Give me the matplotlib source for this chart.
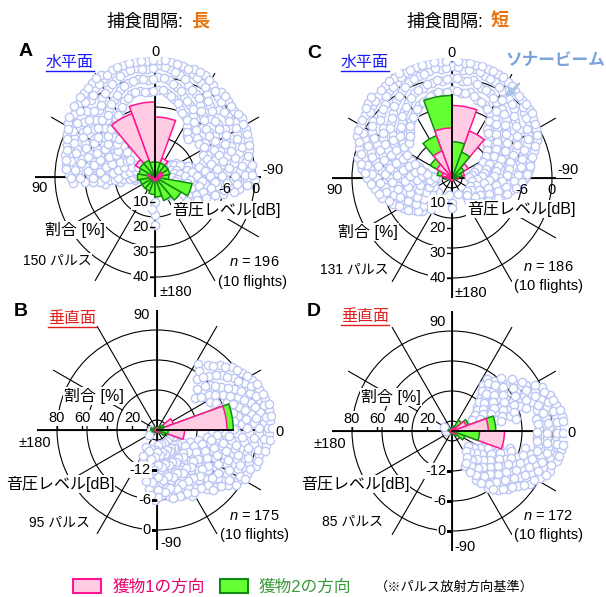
import numpy as np
import matplotlib
matplotlib.use('Agg')
import matplotlib.pyplot as plt
from matplotlib.lines import Line2D
from matplotlib.patches import Patch, FancyArrowPatch

plt.rcParams['font.family'] = ['Liberation Sans', 'Noto Sans CJK JP']
plt.rcParams['mathtext.fontset'] = 'custom'
plt.rcParams['mathtext.it'] = 'Liberation Sans:italic'
plt.rcParams['mathtext.rm'] = 'Liberation Sans'

W, H = 606, 597

# 20 degree bins (angle from the pulse direction)
bins = [10, 30, 50, 70, 90, 110, 130, 150, 170,
        -170, -150, -130, -110, -90, -70, -50, -30, -10]

# percentage of pulses per bin: prey 1 (pink) / prey 2 (green)
pink_a = [30, 27, 9, 3, 2, 1, 1, 1, 1.5, 1.5, 1, 1, 1.5, 2, 3, 3, 8, 24]
green_a = [6, 7, 7, 6.5, 7, 6, 6, 6, 7, 8, 10, 12, 15, 5.5, 6, 6, 6, 6]
pink_c = [20, 11.5, 7, 4, 2, 1, 1, 1, 1, 1, 1, 1, 1.5, 2.5, 5, 7.5, 20, 29]
green_c = [33, 18, 10, 6, 3, 1.5, 1, 1, 1, 1, 1, 1, 1, 2, 4, 5.5, 11, 14.5]
pink_b = [56, 14, 2, 1.5, 1, 1, 1, 1, 1.5, 1.5, 1, 1, 1, 1.5, 1.5, 2, 3, 22]
green_b = [61, 6, 4, 2, 2, 2, 2, 3, 5, 4, 3, 2, 2, 2, 2, 3, 7, 9]
pink_d = [29, 12, 3, 1.5, 1, 1, 1, 1, 1, 1, 1, 1, 1, 1, 1.5, 2, 4, 42]
green_d = [35, 14, 10, 4, 2, 1.5, 1.5, 2, 3, 2, 1.5, 1.5, 1.5, 2, 3, 5, 11, 22]

# sonar beam points: angle [deg] followed by sound pressure levels [dB]
cloud_a = """
98 -16 -13 -10
94 -16 -13.5 -11 -8.5 -6 -3.5
88 -17 -14.5 -12 -9.5 -7 -4.5 -2.8
82 -16 -13.5 -11 -8.5 -6 -3.5 -2
76 -15 -12.5 -10 -7.5 -5 -2.5 -1.5
70 -16 -13.5 -11 -8.5 -6 -3.5 -1.2
64 -14.5 -12 -9.5 -7 -4.5 -2 -0.5
58 -15.5 -13 -10.5 -8 -5.5 -3 -0.5 0.4
52 -12 -9.5 -7 -4.5 -2 0.5
46 -11 -8.5 -6 -3.5 -1 1.2
40 -7.5 -5 -2.5 0 2
34 -6 -3.5 -1 1.5 2.6
28 -5 -2.5 0 2.2 3.2
22 -3.5 -1.2 1 3
16 -2.8 -0.5 1.8 3.3
10 -2.5 0 2.2 3.4
4 -3 -0.6 1.6 3.2
-2 -2.5 0 2.4 3.5
-8 -3 -0.5 1.8 3.2
-14 -4 -1.5 1 2.8
-20 -5.5 -3 -0.5 2 3
-26 -6.5 -4 -1.5 1 2.6
-32 -8 -5.5 -3 -0.5 1.8
-38 -9.5 -7 -4.5 -2 0.4 1.6
-44 -9 -6.5 -4 -1.5 1
-50 -16 -8.5 -6 -3.5 -1 0.6
-56 -16.5 -15 -8 -5.5 -3 -0.5 1
-62 -15.5 -9 -6.5 -4 -1.5 0.5
-68 -16 -14 -8.5 -6 -3.5 -1 0
-74 -15 -12.5 -10 -7.5 -5 -2.5 -0.5
-80 -16.5 -14 -11.5 -9 -6.5 -4 -1.5
-86 -15.5 -13 -10.5 -8 -5.5 -3 -1
-92 -16 -13.5 -11 -8.5 -6 -3.5 -1.5 0
-98 -15 -12.5 -10 -7.5 -5 -3
-104 -16 -13.5 -11 -8.5 -6
-110 -15 -12.5 -10 -8
-116 -16 -13.5 -11 -9.5
-122 -15 -12.5 -11
-130 -16 -14 -12.5
-138 -15.5 -14
-150 -16
180 -15 -12.5 -10.5
174 -13.5
"""

cloud_a2 = """
95 -15 -12 -9 -7.5
91 -15.5 -12.5 -10 -7.5 -5 -3.2
85 -16.5 -14 -11.5 -9 -6.5 -4 -2.2
79 -15 -12.5 -10 -7.5 -5 -2.8 -1.8
73 -16 -13.5 -11 -8.5 -6 -3.5 -1.5
67 -15 -12.5 -10 -7.5 -5 -2.5 -0.8
61 -16 -13.5 -11 -8.5 -6 -3.5 -1.2 0
55 -14 -11 -8.5 -6 -3.5 -1 1
49 -12.5 -10 -7.5 -5 -2.5 0 1.5
43 -9.5 -7 -4.5 -2 0.5 2
37 -7 -4.5 -2 0.5 2.4
31 -5.5 -3 -0.5 1.8 3
25 -4.5 -2 0.5 2.6
19 -3.2 -0.8 1.4 3.3
13 -2.5 -0.2 2 3.4
7 -2.8 -0.2 1.8 3.3
1 -2.8 -0.4 1.8 3.4
-5 -2.6 -0.2 2 3.4
-11 -3.5 -1 1.4 3
-17 -4.5 -2 0.5 2.6
-23 -6 -3.5 -1 1.5 2.8
-29 -7 -4.5 -2 0.5 2.2
-35 -9 -6.5 -4 -1.5 1
-41 -10 -7.5 -5 -2.5 0 1.4
-47 -8.5 -6 -3.5 -1 0.8
-53 -16 -9 -6.5 -4 -1.5 0.8
-59 -15.5 -8.5 -6 -3.5 -1 0.6
-65 -16.5 -14.5 -9.5 -7 -4.5 -2 0.2
-71 -15.5 -13 -9 -6.5 -4 -1.5 -0.2
-77 -16 -13.5 -11 -8.5 -6 -3.5 -1
-83 -15 -12.5 -10 -7.5 -5 -2.5 -0.5
-89 -16.5 -14 -11.5 -9 -6.5 -4 -2 -0.5
-95 -15.5 -13 -10.5 -8 -5.5 -3.5 -1.5
-101 -16 -13.5 -11 -8.5 -6 -4
-107 -15 -12.5 -10 -7.5
-113 -16 -13.5 -11 -9
-119 -15 -12.5 -10.5
-126 -16 -13.5 -12
-134 -15 -13.5
-144 -15.5
"""

cloud_c = """
170 -16.5
180 -15 -14
146 -14 -12.5
138 -15 -13 -11
130 -16 -14 -12 -10
122 -14.5 -12.5 -10.5 -8.5
114 -16 -13 -11 -9 -7
106 -15 -12.5 -10 -8 -5.5
98 -16.5 -14 -11.5 -9 -6.5 -4.5
90 -17 -15 -12.5 -10 -7.5 -5 -3
84 -16 -13.5 -11 -8.5 -6 -3.5 -2
78 -14.5 -12 -9.5 -7 -4.5 -2 -0.8
72 -13 -10.5 -8 -5.5 -3 -0.5
66 -11 -8.5 -6 -3.5 -1 0.8
60 -9 -6.5 -4 -1.5 1
54 -8 -5.5 -3 -0.5 1.6
48 -8.5 -6 -3.5 -1 1.5 2.5
42 -7.5 -5 -2.5 0 2
36 -6 -3.5 -1 1.5 2.8
30 -5 -2.5 0 2.2 3.2
24 -4 -1.5 1 3
18 -3.5 -1 1.5 3.3
12 -2.8 -0.5 1.8 3.4
6 -3 -0.5 2 3.4
0 -2.5 0 2.4
-6 -3 -0.5 1.8 3.2
-12 -2.5 0 2.2 3.2
-18 -3.5 -1 1.5 3
-24 -4 -1.5 1 2.8
-30 -5 -2.5 0 2.2
-36 -8 -5.5 -3 -0.5 1.6
-42 -9 -6.5 -4 -1.5 1
-48 -10.5 -8 -5.5 -3 -0.5 0.6
-54 -11 -8.5 -6 -3.5 -1 0
-60 -12.5 -10 -7.5 -5 -2.5 -0.5
-66 -13.5 -11 -8.5 -6 -3.5 -1.5
-72 -15 -12.5 -10 -7.5 -5 -2.8
-78 -16 -13.5 -11 -8.5 -6 -4
-84 -16.5 -14 -11.5 -9 -6.5 -4.5
-90 -15.5 -13 -10.5 -8 -5.5
-96 -16 -13.5 -11 -8.5 -6.5
-102 -15 -12.5 -10 -8
-110 -16 -13.5 -11 -9.5
-118 -15 -13 -11
-126 -16 -14 -12
-134 -15 -13
-144 -16 -14.5
-160 -16.5
"""

cloud_c2 = """
142 -15 -13.5
134 -16 -14 -12 -10.5
126 -15 -13 -11 -9
118 -16 -14 -12 -10 -8
110 -15 -13 -11 -9 -6.5
102 -16 -13.5 -11 -9 -6.5 -5
94 -15.5 -13 -10.5 -8 -5.5 -3.8
87 -16.5 -14 -11.5 -9 -6.5 -4 -2.5
81 -15 -12.5 -10 -7.5 -5 -2.8 -1.5
75 -13.5 -11 -8.5 -6 -3.5 -1.2
69 -12 -9.5 -7 -4.5 -2 0
63 -10 -7.5 -5 -2.5 0 1
57 -8.5 -6 -3.5 -1 1.4
51 -9 -6.5 -4 -1.5 1 2.2
45 -8 -5.5 -3 -0.5 1.8 2.8
39 -6.5 -4 -1.5 1 2.6
33 -5.5 -3 -0.5 1.8 3.2
27 -4.5 -2 0.5 2.6 3.5
21 -3.8 -1.2 1.2 3.2
15 -3 -0.6 1.6 3.4
9 -2.6 -0.2 2.2 3.5
3 -2.8 -0.2 2 3.4
-3 -2.6 0 2.2 3.4
-9 -2.8 -0.4 1.8 3.3
-15 -3 -0.5 2 3.2
-21 -3.8 -1.2 1.2 2.9
-27 -4.5 -2 0.5 2.6
-33 -6.5 -4 -1.5 1 2
-39 -8.5 -6 -3.5 -1 1.2
-45 -10 -7.5 -5 -2.5 0 0.8
-51 -11 -8.5 -6 -3.5 -1 0.5
-57 -12 -9.5 -7 -4.5 -2 -0.2
-63 -13 -10.5 -8 -5.5 -3 -1
-69 -14.5 -12 -9.5 -7 -4.5 -2.2
-75 -15.5 -13 -10.5 -8 -5.5 -3.5
-81 -16 -13.5 -11 -8.5 -6 -4.2
-87 -16.5 -14 -11.5 -9 -6.8 -5
-93 -15 -12.5 -10 -7.5 -6
-99 -16 -13.5 -11 -9 -7
-106 -15 -12.5 -10.5 -8.5
-114 -16 -14 -12 -10
-122 -15.5 -13.5 -11.5
-130 -16 -14 -12.5
-139 -15.5 -13.5
"""

cloud_b = """
58 -4.5
52 -7 -3.5
46 -8.5 -5 -2
40 -10 -6 -3 -0.5
34 -7.5 -4.5 -1.5 0.5
28 -8 -5 -2.5 0 1.5
22 -7.5 -5 -2.5 0 2
16 -8 -5.5 -3 -0.5 1.5 2.5
10 -8.5 -6 -3.5 -1 1 2.8
4 -8 -5.5 -3 -0.5 1.5 2.6
-2 -9 -6.5 -4 -1.5 0.5 2.5
-8 -10 -7.5 -5 -2.5 -0.5 2
-14 -11.5 -9 -6.5 -4 -1.5 1
-20 -13 -10.5 -8 -5.5 -3 -0.5 1
-26 -14.5 -12 -9.5 -7 -4.5 -2 0
-32 -16 -13.5 -11 -8.5 -6 -3.5 -1
-38 -17 -14.5 -12 -9.5 -7 -4.5 -2
-44 -16 -13.5 -11 -8.5 -6 -3.5
-50 -17 -14.5 -12 -9.5 -7 -4.5
-56 -16 -13.5 -11 -8.5 -6
-62 -17 -14.5 -12 -9.5 -7 -5
-68 -16 -13.5 -11 -8.5 -6
-74 -17 -14.5 -12 -9.5 -7
-80 -16 -13.5 -11 -8.5 -6.5
-86 -17 -14.5 -12 -9.5 -7
-92 -16 -13.5 -11 -8.5 -6
-98 -15 -12.5 -10 -8
-106 -16 -13.5 -11
-114 -15 -13
-124 -16
180 -18.8
-150 -18.2
"""

cloud_b2 = """
55 -5.5
49 -6 -3
43 -7 -4 -1.5
37 -9 -5.5 -2.5 0
31 -6.5 -3.5 -1 1
25 -7 -4 -1.5 0.8 2
19 -6.5 -4 -1.5 1 2.4
13 -7.5 -4.5 -2 0.2 2 3
7 -7 -4.5 -2 0 2 3
1 -7.5 -4.5 -2 0.5 2.2 3
-5 -8 -5.5 -3 -0.5 1.5 2.6
-11 -9 -6.5 -4 -1.5 0.5 2
-17 -10.5 -8 -5.5 -3 -1 1.2
-23 -12 -9.5 -7 -4.5 -2 0.2
-29 -13.5 -11 -8.5 -6 -3.5 -1 0.2
-35 -15 -12.5 -10 -7.5 -5 -2.5 -0.8
-41 -15.5 -13 -10.5 -8 -5.5 -3
-47 -15 -12.5 -10 -7.5 -5 -3.5
-53 -15.5 -13 -10.5 -8 -5.5
-59 -15 -12.5 -10 -8 -5.5
-65 -15.5 -13 -10.5 -8 -6
-71 -15 -12.5 -10 -7.5 -6
-77 -15.5 -13 -10.5 -8 -6
-83 -15 -12.5 -10 -7.5
-89 -15.5 -13 -10.5 -8 -6.5
-95 -14.5 -12 -9.5 -7
-102 -14 -11.5 -9.5
-110 -15.5 -12
-118 -14
"""

cloud_d = """
56 -9 -7.5
50 -11 -9 -7
44 -13 -11 -8.5 -6
38 -14 -12 -9.5 -7 -4.5
32 -15 -12.5 -10 -7.5 -5 -2.5
26 -14 -11.5 -9 -6.5 -4 -1.5 0
20 -13 -10.5 -8 -5.5 -3 -1 0.8
14 -11 -8 -2.5 -0.5 1.5
8 -3 -1 1 2.2
2 -2.5 -0.5 1.5 2.4
-4 -3 -1 1 2.2
-10 -2.5 -0.5 1.5 2.2
-16 -8 -3.5 -1.5 0.5 1.8
-22 -11 -8.5 -6 -4 -2 0 1.2
-28 -13 -10.5 -8 -6 -4 -2 0
-34 -14 -12 -9.5 -7.5 -5.5 -3.5 -1.2
-40 -15 -13 -11 -9 -7 -5 -2.8
-46 -14 -12 -10 -8 -6 -4
-52 -15 -13 -11 -9 -7 -5
-58 -14 -12 -10 -8 -6.5
-64 -13 -11 -9
-70 -12.5
180 -18.8
150 -18.2
"""

cloud_d2 = """
53 -10 -8
47 -12 -10 -7.5 -5.5
41 -13.5 -11.5 -9 -6.5 -4
35 -14.5 -12.5 -10 -7.5 -5 -3
29 -15.5 -13 -10.5 -8 -5.5 -3 -1
23 -14 -11.5 -9 -6.5 -4 -2 0
17 -12.5 -9.5 -7 -4.5 -2 0 1.2
11 -10 -7 -1.5 0.5 2
5 -2.8 -0.8 1 2.3
-1 -3 -1 1 2.3
-7 -2.8 -0.8 1.2 2.3
-13 -5 -2.5 -0.5 1.5 2
-19 -10 -7.5 -5 -3 -1 1
-25 -12 -9.5 -7 -5 -3 -1 0.8
-31 -13.5 -11 -9 -7 -5 -3 -0.8
-37 -14.5 -12.5 -10.5 -8.5 -6.5 -4.5 -2
-43 -15.5 -13.5 -11.5 -9.5 -7.5 -5.5 -3.5
-49 -14.5 -12.5 -10.5 -8.5 -6.5 -4.5
-55 -15 -13 -11 -9 -7 -5.8
-61 -14 -12 -10 -8
-67 -13 -11
"""

SCAT = '#bcc7f3'
PINK_F, PINK_E = '#ffcce4', '#ff1493'
GREEN_F, GREEN_E = '#66ff33', '#128a12'
WB = dict(facecolor='white', edgecolor='none', pad=0.8)

fig = plt.figure(figsize=(W / 100, H / 100), dpi=100)


def fx(x):
    return x / W


def fy(y):
    return 1 - y / H


def read_cloud(*tbls):
    th, db = [], []
    for tbl in tbls:
        for line in tbl.strip().splitlines():
            v = [float(s) for s in line.split()]
            th += [v[0]] * (len(v) - 1)
            db += v[1:]
    return np.radians(th), np.array(db)


def make_panel(cx, cy, zero, clouds, pink, green, pmax):
    rect = [fx(cx - 120), fy(cy + 120), 240 / W, 240 / H]

    # sound pressure level axes
    ax = fig.add_axes(rect, projection='polar', label='db%d%d' % (cx, cy))
    ax.set_theta_zero_location(zero)
    ax.set_theta_direction(1)
    ax.set_ylim(-20, 4)
    ax.set_thetagrids(range(0, 360, 30), labels=[])
    ax.set_rgrids([-18, -12, -6, 0], labels=[])
    ax.grid(True, color='black', lw=0.8)
    ax.set_axisbelow(True)
    ax.spines['polar'].set_visible(False)
    ax.patch.set_alpha(0)
    for a in (0, 90, 180, 270):
        ax.plot([np.radians(a)] * 2, [-20, 4], color='black', lw=1.3, zorder=1)

    th, db = read_cloud(*clouds)
    ax.scatter(th, db, s=36, facecolor='white', edgecolor=SCAT, lw=1.0, zorder=2)

    # percentage axes (bars)
    ax2 = fig.add_axes(rect, projection='polar', label='pct%d%d' % (cx, cy))
    ax2.set_theta_zero_location(zero)
    ax2.set_theta_direction(1)
    ax2.set_ylim(0, pmax)
    ax2.axis('off')

    th_b = np.radians(bins)
    wd = np.radians(20)
    bp = ax2.bar(th_b, pink, width=wd, bottom=0, facecolor=PINK_F,
                 edgecolor=PINK_E, lw=1.1)
    bg = ax2.bar(th_b, green, width=wd, bottom=0, facecolor=GREEN_F,
                 edgecolor=GREEN_E, lw=1.1)
    for p, g, vp, vg in zip(bp.patches, bg.patches, pink, green):
        # smaller bar drawn on top
        p.set_zorder(4 if vp <= vg else 3)
        g.set_zorder(4 if vg < vp else 3)
    top = max(pink[0], pink[-1], green[0], green[-1])
    ax2.plot([0, 0], [0, top], color='black', lw=1.3, zorder=5)
    return ax, ax2


def ang_label(ax, deg, s, dx, dy):
    ax.annotate(s, xy=(np.radians(deg), 4), xytext=(dx, dy),
                textcoords='offset pixels', ha='center', va='center',
                fontsize=10.5, annotation_clip=False, bbox=WB, zorder=6)


def label(x, y, s, size=11.5, **kw):
    return fig.text(fx(x), fy(y), s, ha='center', va='center',
                    fontsize=size, **kw)


# ---------------- horizontal plane (A, C) ----------------
for cx, cy, clouds, pink, green in [(155, 177, (cloud_a, cloud_a2), pink_a, green_a),
                                    (452, 178, (cloud_c, cloud_c2), pink_c, green_c)]:
    ax, ax2 = make_panel(cx, cy, 'N', clouds, pink, green, 48)
    if cx < 300:
        ang_label(ax, 0, '0', 0, 5)
        ang_label(ax, 90, '90', 5, -11)
        ang_label(ax, -90, '-90', -2, 7)
        ang_label(ax, 180, '±180', 21, 5)
    else:
        ang_label(ax, 0, '0', 0, 5)
        ang_label(ax, 90, '90', 3, -12)
        ang_label(ax, -90, '-90', -4, 8)
        ang_label(ax, 180, '±180', 19, 5)
    for v in (-6, 0):
        ax.annotate(str(v), xy=(np.radians(-90), v), xytext=(0, -5),
                    textcoords='offset pixels', ha='center', va='top',
                    fontsize=10.5, zorder=6)
    for p in (10, 20, 30, 40):
        ax2.plot([np.pi], [p], marker=0, ms=4, color='black', mew=1,
                 clip_on=False, zorder=6)
        ax2.annotate(str(p), xy=(np.pi, p), xytext=(-6, 0),
                     textcoords='offset pixels', ha='right', va='center',
                     fontsize=10.5, bbox=WB, annotation_clip=False, zorder=6)

# ---------------- vertical plane (B, D) ----------------
for cx, cy, clouds, pink, green in [(157, 430, (cloud_b, cloud_b2), pink_b, green_b),
                                    (452, 431, (cloud_d, cloud_d2), pink_d, green_d)]:
    ax, ax2 = make_panel(cx, cy, 'E', clouds, pink, green, 96)
    if cx < 300:
        ang_label(ax, 90, '90', -15, -5)
        ang_label(ax, 0, '0', 2, -2)
        ang_label(ax, 180, '±180', -2, -13)
        ang_label(ax, -90, '-90', 14, 7)
    else:
        ang_label(ax, 90, '90', -14, -11)
        ang_label(ax, 0, '0', 0, -2)
        ang_label(ax, 180, '±180', -2, -13)
        ang_label(ax, -90, '-90', 13, 4)
    for v in (-12, -6, 0):
        ax.plot([np.radians(-90)], [v], marker=0, ms=4, color='black',
                mew=1, zorder=6)
        ax.annotate(str(v), xy=(np.radians(-90), v), xytext=(-6, 0),
                    textcoords='offset pixels', ha='right', va='center',
                    fontsize=10.5, bbox=WB, zorder=6)
    for p in (20, 40, 60, 80):
        ax2.plot([np.pi], [p], marker=2, ms=4, color='black', mew=1,
                 clip_on=False, zorder=6)
        ax2.annotate(str(p), xy=(np.pi, p), xytext=(0, 5),
                     textcoords='offset pixels', ha='center', va='bottom',
                     fontsize=10.5, bbox=WB, annotation_clip=False, zorder=6)

# ---------------- free labels ----------------
panel_text = [
    (75, 230, 57, 261, '150 パルス', 226, 210, 254, 262, 196, 252, 282),
    (368, 232, 354, 270, '131 パルス', 521, 209, 548, 267, 186, 548, 286),
    (94, 396, 59, 523, '95 パルス', 60, 484, 254, 516, 175, 254, 535),
    (391, 397, 353, 522, '85 パルス', 355, 484, 548, 516, 172, 548, 535),
]
for (gx, gy, px_, py_, ptxt, sx, sy, nx, ny, n, fx_, fy_) in panel_text:
    label(gx, gy, '割合 [%]', bbox=WB)
    label(px_, py_, ptxt, size=10, bbox=WB)
    label(sx, sy, '音圧レベル[dB]', bbox=WB)
    label(nx, ny, '$n$ = %d' % n, size=10.5, bbox=WB)
    label(fx_, fy_, '(10 flights)', size=10.5, bbox=WB)

# panel letters
for x, y, s in [(26, 52, 'A'), (314, 53, 'C'), (21, 311, 'B'), (314, 312, 'D')]:
    label(x, y, s, size=14, fontweight='bold')

# titles
for xr, word in [(183, '長'), (483, '短')]:
    fig.text(fx(xr), fy(22), '捕食間隔:', ha='right', va='center', fontsize=13)
    fig.text(fx(xr + 8), fy(22), word, ha='left', va='center', fontsize=13,
             fontweight='bold', color='#e8740c')

# plane names, underlined
renderer = fig.canvas.get_renderer()
for x, y, s, c in [(70, 62, '水平面', '#1a1aff'), (365, 62, '水平面', '#1a1aff'),
                   (72, 318, '垂直面', '#e0201e'), (365, 316, '垂直面', '#e0201e')]:
    t = label(x, y, s, size=11.5, color=c)
    bb = t.get_window_extent(renderer)
    x0, x1 = bb.x0 / W, bb.x1 / W
    yl = (bb.y0 - 1.5) / H
    fig.add_artist(Line2D([x0, x1], [yl, yl], color=c, lw=1.0,
                          transform=fig.transFigure))

# sonar beam note
label(555, 60, 'ソナービーム', size=12, color='#7ba3d9', fontweight='bold')
fig.add_artist(FancyArrowPatch((fx(521), fy(82)), (fx(503), fy(99)),
                               transform=fig.transFigure, arrowstyle='-|>',
                               mutation_scale=12, color='#a9c4e8', lw=2))

# legend
handles = [Patch(facecolor=PINK_F, edgecolor=PINK_E, lw=1.5),
           Patch(facecolor=GREEN_F, edgecolor=GREEN_E, lw=1.5)]
leg = fig.legend(handles, ['獲物1の方向', '獲物2の方向'], loc='center left',
                 bbox_to_anchor=(fx(73), fy(587)), ncol=2, frameon=False,
                 fontsize=12, handlelength=1.7, handleheight=0.9,
                 handletextpad=0.65, columnspacing=0.9, borderpad=0,
                 borderaxespad=0)
for t, c in zip(leg.get_texts(), ['#e5006e', '#3a9a3a']):
    t.set_color(c)
fig.text(fx(375), fy(587), '（※パルス放射方向基準）', ha='left', va='center',
         fontsize=9.5)

fig.savefig('out.png', dpi=100)
